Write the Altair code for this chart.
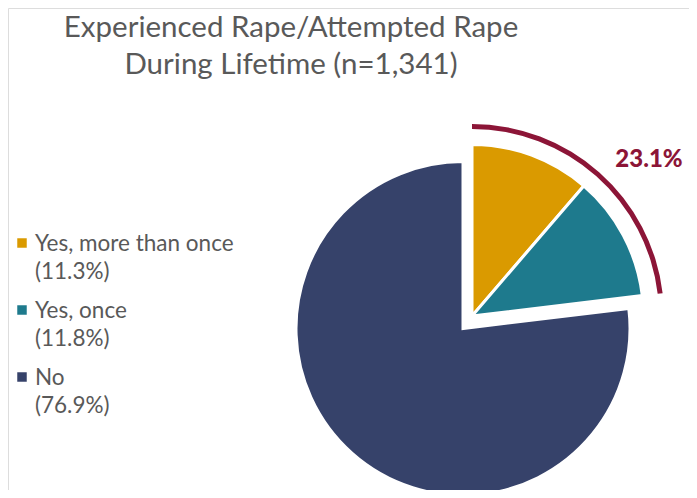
import altair as alt
import pandas as pd

categories = ["Yes, more than once", "Yes, once", "No"]
shares = [11.3, 11.8, 76.9]
colors = ["#DA9A00", "#1E7A8D", "#36426A"]
legend_lines = ["(11.3%)", "(11.8%)", "(76.9%)"]
title_lines = ["Experienced Rape/Attempted Rape", "During Lifetime (n=1,341)"]
callout_text = "23.1%"

starts = []
acc = 0.0
for s in shares:
    starts.append(acc)
    acc += s
ends = [a + s for a, s in zip(starts, shares)]

pie = pd.DataFrame({"cat": categories, "start": starts, "end": ends,
                    "exploded": [True, True, False], "order": [0, 1, 2]})
yes_total = round(shares[0] + shares[1], 1)
callout = pd.DataFrame({"start": [0.0], "end": [yes_total], "label": [callout_text]})
leg = pd.DataFrame({"cat": categories, "row": [0, 1, 2],
                    "text": [c + "\n" + l for c, l in zip(categories, legend_lines)]})
titles = pd.DataFrame({"t": ["\n".join(title_lines)]})

FONT = "Lato"
theta_scale = alt.Scale(domain=[0, 100], range=[0, 6.283185307])
color_scale = alt.Scale(domain=categories, range=colors)

def slices(df, cx, cy, r):
    return alt.Chart(df).mark_arc(radius=r, stroke="white", strokeWidth=3).encode(
        theta=alt.Theta("start:Q", scale=theta_scale),
        theta2="end:Q",
        color=alt.Color("cat:N", scale=color_scale, legend=None),
        x=alt.value(cx), y=alt.value(cy),
    )

no_layer = slices(pie[pie.exploded == False], 455, 320.5, 167)
yes_layer = slices(pie[pie.exploded == True], 464, 308, 171.5)

ring = alt.Chart(callout).mark_arc(radius=192, radius2=187, color="#8C1537").encode(
    theta=alt.Theta("start:Q", scale=theta_scale), theta2="end:Q",
    x=alt.value(464), y=alt.value(308))

ring_label = alt.Chart(callout).mark_text(font=FONT, fontSize=24, fontWeight=900,
                                          color="#8C1537").encode(
    text="label:N", x=alt.value(641), y=alt.value(152))

title = alt.Chart(titles).mark_text(font=FONT, fontSize=29.5, color="#595959",
                                    lineBreak="\n", lineHeight=37,
                                    baseline="alphabetic", align="center").encode(
    text="t:N", x=alt.value(283), y=alt.value(29))

leg_y = alt.Y("row:Q", scale=alt.Scale(domain=[0, 2], range=[235, 369]), axis=None)
leg_sq = alt.Chart(leg).mark_square(size=90, opacity=1).encode(
    y=leg_y, x=alt.value(14),
    color=alt.Color("cat:N", scale=color_scale, legend=None))
leg_text = alt.Chart(leg).mark_text(font=FONT, fontSize=22.5, color="#595959", align="left",
                                    baseline="middle", lineBreak="\n", lineHeight=27.5,
                                    dy=1).encode(
    y=leg_y, x=alt.value(27), text="text:N")

chart = alt.layer(no_layer, yes_layer, ring, ring_label, title, leg_sq, leg_text).properties(
    width=681, height=482, padding=0, autosize=alt.AutoSizeParams(type="none")
).configure_view(stroke=None).configure(background="white")

chart.save("out.html", embed_options={"renderer": "svg", "actions": False})
